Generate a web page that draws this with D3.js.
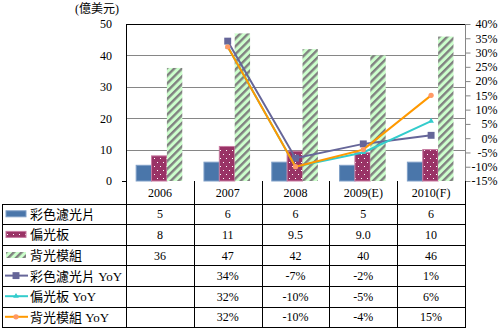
<!DOCTYPE html>
<html>
<head>
<meta charset="utf-8">
<script src="https://cdn.jsdelivr.net/npm/d3@7"></script>
<style>
  body { margin: 0; background: #fff; }
  svg { display: block; }
  text { font-family: "Liberation Serif", "Noto Sans CJK TC", serif; fill: #000; }
</style>
</head>
<body>
<div id="chart"></div>
<script>
// categories and series
const years = ["2006", "2007", "2008", "2009(E)", "2010(F)"];
const colorFilter = [5, 6, 6, 5, 6];
const polarizer = [8, 11, 9.5, 9.0, 10];
const backlight = [36, 47, 42, 40, 46];
const colorFilterYoY = [null, 34, -7, -2, 1];
const polarizerYoY = [null, 32, -10, -5, 6];
const backlightYoY = [null, 32, -10, -4, 15];

// table cell text (as printed)
const polarizerLabels = ["8", "11", "9.5", "9.0", "10"];
const leftTicks = [0, 10, 20, 30, 40, 50];
const rightTicks = [-15, -10, -5, 0, 5, 10, 15, 20, 25, 30, 35, 40];

const W = 503, H = 330;
const plot = { left: 126, right: 465, top: 24, bottom: 181 };

const svg = d3.select("#chart").append("svg")
  .attr("width", W).attr("height", H);

const defs = svg.append("defs");

// white dot pattern for the polarizer bars
const dots = defs.append("pattern")
  .attr("id", "dots").attr("patternUnits", "userSpaceOnUse")
  .attr("width", 6).attr("height", 8);
dots.append("rect").attr("width", 6).attr("height", 8).attr("fill", "#993366");
dots.append("rect").attr("x", 1).attr("y", 2).attr("width", 1).attr("height", 1).attr("fill", "#fff");
dots.append("rect").attr("x", 4).attr("y", 6).attr("width", 1).attr("height", 1).attr("fill", "#fff");

// diagonal hatch for the backlight bars
const hatch = defs.append("pattern")
  .attr("id", "hatch").attr("patternUnits", "userSpaceOnUse")
  .attr("width", 5.5).attr("height", 5.5)
  .attr("patternTransform", "rotate(45)");
hatch.append("rect").attr("width", 5.5).attr("height", 5.5).attr("fill", "#ccffcc");
hatch.append("rect").attr("x", 0).attr("width", 2.4).attr("height", 5.5).attr("fill", "#808080");

const x = d3.scaleBand().domain(years).range([plot.left, plot.right]);
const bw = x.bandwidth();
const sub = d3.scaleBand().domain([0, 1, 2]).range([bw * 0.15, bw * 0.83]);
const y = d3.scaleLinear().domain([0, 50]).range([plot.bottom, plot.top]);
const y2 = d3.scaleLinear().domain([-15, 40]).range([plot.bottom, plot.top]);

const barSeries = [
  { values: colorFilter, fill: "#4a76aa", stroke: "#7f9fc7" },
  { values: polarizer, fill: "url(#dots)", stroke: "#c77aa0" },
  { values: backlight, fill: "url(#hatch)", stroke: "none" }
];

const lineSeries = [
  { values: colorFilterYoY, color: "#666699", marker: "square", fillM: "#666699" },
  { values: polarizerYoY, color: "#33cccc", marker: "triangle", fillM: "#33cccc" },
  { values: backlightYoY, color: "#ff9900", marker: "circle", fillM: "#ff9966" }
];

// gridlines
svg.append("g")
  .selectAll("line")
  .data(leftTicks.filter(d => d > 0 && d < 50))
  .join("line")
  .attr("x1", plot.left).attr("x2", plot.right)
  .attr("y1", d => Math.round(y(d)) + 0.5).attr("y2", d => Math.round(y(d)) + 0.5)
  .attr("stroke", "#868686");

// bars
barSeries.forEach((s, i) => {
  svg.append("g")
    .selectAll("rect")
    .data(s.values)
    .join("rect")
    .attr("x", (d, j) => x(years[j]) + sub(i))
    .attr("y", d => y(d))
    .attr("width", sub.bandwidth())
    .attr("height", d => plot.bottom - y(d))
    .attr("fill", s.fill)
    .attr("stroke", s.stroke)
    .attr("stroke-width", 1);
});

// frame: top border, left axis, right axis
svg.append("line")
  .attr("x1", plot.left).attr("x2", plot.right + 0.5)
  .attr("y1", plot.top + 0.5).attr("y2", plot.top + 0.5)
  .attr("stroke", "#000");
svg.append("line")
  .attr("x1", plot.right + 0.5).attr("x2", plot.right + 0.5)
  .attr("y1", plot.top).attr("y2", plot.bottom)
  .attr("stroke", "#868686");

// left axis labels
const leftAxis = d3.axisLeft(y).tickValues(leftTicks).tickSize(0).tickPadding(14);
const gl = svg.append("g").attr("transform", `translate(${plot.left},0)`).call(leftAxis);
gl.select(".domain").remove();
gl.selectAll("text").style("font-size", "12px")
  .style("font-family", "'Liberation Serif', serif");

// right axis (percent)
const rightAxis = d3.axisRight(y2).tickValues(rightTicks).tickSize(5)
  .tickFormat(d => d + "%");
const gr = svg.append("g").attr("transform", `translate(${plot.right + 0.5},0)`).call(rightAxis);
gr.select(".domain").remove();
gr.selectAll("line").attr("stroke", "#868686");
gr.selectAll("text")
  .attr("x", 32).attr("text-anchor", "end")
  .style("font-size", "12px")
  .style("font-family", "'Liberation Serif', serif");

// zero tick
svg.append("line")
  .attr("x1", plot.left - 4).attr("x2", plot.left)
  .attr("y1", plot.bottom + 0.5).attr("y2", plot.bottom + 0.5)
  .attr("stroke", "#000");

// unit label
svg.append("text")
  .attr("x", 97).attr("y", 13)
  .attr("text-anchor", "middle")
  .style("font-size", "12px")
  .text("(億美元)");

// YoY lines
const symbolOf = { square: d3.symbolSquare, triangle: d3.symbolTriangle, circle: d3.symbolCircle };
const symbolSize = { square: 48, triangle: 14, circle: 22 };

lineSeries.forEach(s => {
  const pts = s.values.map((v, j) => ({ v, cat: years[j] })).filter(p => p.v !== null);
  const line = d3.line()
    .x(p => x(p.cat) + bw / 2)
    .y(p => y2(p.v));
  svg.append("path")
    .attr("d", line(pts))
    .attr("fill", "none")
    .attr("stroke", s.color)
    .attr("stroke-width", 2);
  svg.append("g")
    .selectAll("path")
    .data(pts)
    .join("path")
    .attr("transform", p => `translate(${x(p.cat) + bw / 2},${y2(p.v)})`)
    .attr("d", d3.symbol(symbolOf[s.marker], symbolSize[s.marker]))
    .attr("fill", s.fillM);
});

// data table
const headerTop = plot.bottom;
const rowTop = 203.5;
const rowH = 20.6;
const tableLeft = 2;
const rows = [
  { label: "彩色濾光片", cells: colorFilter.map(String), key: "bar", idx: 0 },
  { label: "偏光板", cells: polarizerLabels, key: "bar", idx: 1 },
  { label: "背光模組", cells: backlight.map(String), key: "bar", idx: 2 },
  { label: "彩色濾光片 YoY", cells: colorFilterYoY.map(v => v === null ? "" : v + "%"), key: "line", idx: 0 },
  { label: "偏光板 YoY", cells: polarizerYoY.map(v => v === null ? "" : v + "%"), key: "line", idx: 1 },
  { label: "背光模組 YoY", cells: backlightYoY.map(v => v === null ? "" : v + "%"), key: "line", idx: 2 }
];

const table = svg.append("g").attr("stroke", "#000").attr("shape-rendering", "crispEdges");
const edges = years.map(c => x(c)).concat([plot.right]);
const bottom = rowTop + rows.length * rowH;

// vertical lines of the value columns
edges.forEach(e => {
  table.append("line")
    .attr("x1", Math.round(e) + 0.5).attr("x2", Math.round(e) + 0.5)
    .attr("y1", e === plot.left ? plot.top : headerTop).attr("y2", bottom);
});
// legend column borders
table.append("line")
  .attr("x1", tableLeft + 0.5).attr("x2", tableLeft + 0.5)
  .attr("y1", rowTop).attr("y2", bottom);
// horizontal lines
d3.range(rows.length + 1).forEach(i => {
  const yy = Math.round(rowTop + i * rowH) + 0.5;
  table.append("line")
    .attr("x1", tableLeft).attr("x2", plot.right + 1)
    .attr("y1", yy).attr("y2", yy);
});

// header labels
svg.append("g").selectAll("text")
  .data(years)
  .join("text")
  .attr("x", d => x(d) + bw / 2)
  .attr("y", (headerTop + rowTop) / 2 + 4.5)
  .attr("text-anchor", "middle")
  .style("font-size", "12px")
  .text(d => d);

rows.forEach((r, i) => {
  const cy = rowTop + i * rowH + rowH / 2;
  // legend key
  if (r.key === "bar") {
    const s = barSeries[r.idx];
    svg.append("rect")
      .attr("x", 6).attr("y", cy - 3).attr("width", 20).attr("height", 6)
      .attr("fill", s.fill).attr("stroke", s.stroke);
  } else {
    const s = lineSeries[r.idx];
    svg.append("line")
      .attr("x1", 5).attr("x2", 28).attr("y1", cy).attr("y2", cy)
      .attr("stroke", s.color).attr("stroke-width", 2);
    svg.append("path")
      .attr("transform", `translate(16,${cy})`)
      .attr("d", d3.symbol(symbolOf[s.marker], symbolSize[s.marker]))
      .attr("fill", s.fillM);
  }
  svg.append("text")
    .attr("x", 30).attr("y", cy + 5)
    .style("font-size", "13px")
    .text(r.label);
  svg.append("g").selectAll("text")
    .data(r.cells)
    .join("text")
    .attr("x", (d, j) => x(years[j]) + bw / 2)
    .attr("y", cy + 4.5)
    .attr("text-anchor", "middle")
    .style("font-size", "12px")
    .text(d => d);
});
</script>
</body>
</html>
